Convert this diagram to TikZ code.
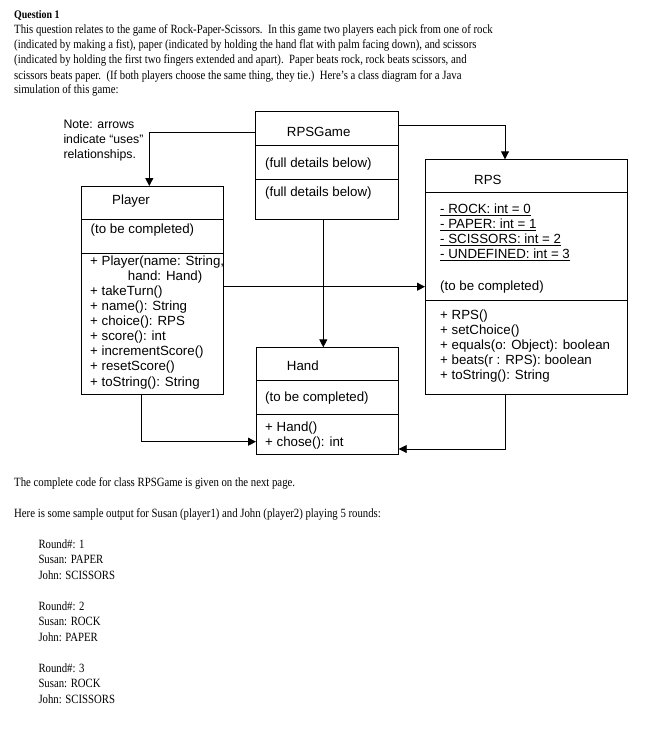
\documentclass[tikz,border=0pt]{standalone}
\usepackage{fontspec}
\usepackage{graphicx}
\usetikzlibrary{arrows.meta}
\newfontfamily\tnr{Liberation Serif}
\newfontfamily\ari{Liberation Sans}
\newcommand{\bodyfont}{\tnr\fontsize{12.6}{15}\selectfont}
\newcommand{\bt}[1]{\scalebox{0.854}[1]{#1}}
\begin{document}
\begin{tikzpicture}[x=1pt,y=-1pt,
  box/.style={draw, line width=0.9pt, anchor=north west, inner sep=0pt, outer sep=0pt},
  sep/.style={line width=0.9pt},
  dt/.style={anchor=base west, inner sep=0pt, font=\ari\fontsize{13.3}{15}\selectfont},
  notet/.style={anchor=base west, inner sep=0pt, font=\ari\fontsize{12.3}{15}\selectfont},
  bodyt/.style={anchor=base west, inner sep=0pt, font=\bodyfont},
  uses/.style={line width=0.9pt, -{Triangle[length=8pt,width=8pt]}}]
\fill[white] (0,0) rectangle (652,736);
\useasboundingbox (0,0) rectangle (652,736);

% body text top
\node[bodyt] (q1) at (14,18.3) {\bt{\fontsize{11.6}{15}\selectfont\bfseries Question 1}};
\node[bodyt] (l1) at (14,33.3) {\bt{This question relates to the game of Rock-Paper-Scissors.\ \ In this game two players each pick from one of rock}};
\node[bodyt] (l2) at (14,48.6) {\bt{(indicated by making a fist), paper (indicated by holding the hand flat with palm facing down), and scissors}};
\node[bodyt] (l3) at (14,63.9) {\bt{(indicated by holding the first two fingers extended and apart).\ \ Paper beats rock, rock beats scissors, and}};
\node[bodyt] (l4) at (14,79) {\bt{scissors beats paper.\ \ (If both players choose the same thing, they tie.)\ \ Here’s a class diagram for a Java}};
\node[bodyt] (l5) at (14,93.6) {\bt{simulation of this game:}};

% boxes
\node[box, minimum width=142.6pt, minimum height=107.6pt] (game) at (255.7,111.7) {};
\node[box, minimum width=141.6pt, minimum height=208pt] (player) at (81.7,186) {};
\node[box, minimum width=202.3pt, minimum height=234.7pt] (rps) at (425,159.3) {};
\node[box, minimum width=142.7pt, minimum height=107pt] (hand) at (256,347.3) {};

\draw[sep] (game.west |- 0,145.3) -- (game.east |- 0,145.3);
\draw[sep] (game.west |- 0,179.3) -- (game.east |- 0,179.3);
\draw[sep] (player.west |- 0,219.3) -- (player.east |- 0,219.3);
\draw[sep] (player.west |- 0,253.3) -- (player.east |- 0,253.3);
\draw[sep] (rps.west |- 0,192.3) -- (rps.east |- 0,192.3);
\draw[sep] (rps.west |- 0,300) -- (rps.east |- 0,300);
\draw[sep] (hand.west |- 0,380.7) -- (hand.east |- 0,380.7);
\draw[sep] (hand.west |- 0,414.3) -- (hand.east |- 0,414.3);

% note
\node[notet] (n1) at (63.3,128.5) {Note: arrows};
\node[notet] (n2) at (63.3,143.5) {indicate “uses”};
\node[notet] (n3) at (63.3,158.7) {relationships.};

% RPSGame
\node[dt] (gt) at (286.7,136) {RPSGame};
\node[dt] (g1) at (265,167.3) {(full details below)};
\node[dt] (g2) at (265,196) {(full details below)};

% Player
\node[dt] (pt) at (112,204.3) {Player};
\node[dt] (pa) at (90.5,233.3) {(to be completed)};
\node[dt] (pm1) at (90,265) {+ Player(name: String,};
\node[dt] (pm1b) at (127.7,280.1) {hand: Hand)};
\node[dt] (pm2) at (90,295.2) {+ takeTurn()};
\node[dt] (pm3) at (90,310.4) {+ name(): String};
\node[dt] (pm4) at (90,325.5) {+ choice(): RPS};
\node[dt] (pm5) at (90,340.6) {+ score(): int};
\node[dt] (pm6) at (90,355.8) {+ incrementScore()};
\node[dt] (pm7) at (90,370.9) {+ resetScore()};
\node[dt] (pm8) at (90,386) {+ toString(): String};

% RPS
\node[dt] (rt) at (474,184) {RPS};
\node[dt] (ra1) at (440,213.3) {\underline{- ROCK: int = 0}};
\node[dt] (ra2) at (440,228.4) {\underline{- PAPER: int = 1}};
\node[dt] (ra3) at (440,243.5) {\underline{- SCISSORS: int = 2}};
\node[dt] (ra4) at (440,258.6) {\underline{- UNDEFINED: int = 3}};
\node[dt] (ra5) at (440,290) {(to be completed)};
\node[dt] (rm1) at (440,319.3) {+ RPS()};
\node[dt] (rm2) at (440,334.4) {+ setChoice()};
\node[dt] (rm3) at (440,349.5) {+ equals(o: Object): boolean};
\node[dt] (rm4) at (440,364.6) {+ beats(r : RPS): boolean};
\node[dt] (rm5) at (440,379.7) {+ toString(): String};

% Hand
\node[dt] (ht) at (286.7,370.7) {Hand};
\node[dt] (ha) at (265,401.7) {(to be completed)};
\node[dt] (hm1) at (265,431.7) {+ Hand()};
\node[dt] (hm2) at (265,446.7) {+ chose(): int};

% connectors
\draw[uses] (game.west |- 0,132.3) -| (149.3,0 |- player.north);
\draw[uses] (game.east |- 0,125) -| (505,0 |- rps.north);
\draw[uses] (323.3,0 |- game.south) -- (323.3,0 |- hand.north);
\draw[uses] (player.east |- 0,286.7) -- (rps.west |- 0,286.7);
\draw[uses] (141.7,0 |- player.south) |- (hand.west |- 0,441.7);
\draw[uses] (505,0 |- rps.south) |- (hand.east |- 0,449);

% body text bottom
\node[bodyt] (b1) at (14,486.7) {\bt{The complete code for class RPSGame is given on the next page.}};
\node[bodyt] (b2) at (14,517.3) {\bt{Here is some sample output for Susan (player1) and John (player2) playing 5 rounds:}};
\node[bodyt] (r1a) at (38.3,548.3) {\bt{Round\#: 1}};
\node[bodyt] (r1b) at (38.3,563.3) {\bt{Susan: PAPER}};
\node[bodyt] (r1c) at (38.3,579.3) {\bt{John: SCISSORS}};
\node[bodyt] (r2a) at (38.3,610.7) {\bt{Round\#: 2}};
\node[bodyt] (r2b) at (38.3,625.7) {\bt{Susan: ROCK}};
\node[bodyt] (r2c) at (38.3,641.7) {\bt{John: PAPER}};
\node[bodyt] (r3a) at (38.3,672.3) {\bt{Round\#: 3}};
\node[bodyt] (r3b) at (38.3,687.7) {\bt{Susan: ROCK}};
\node[bodyt] (r3c) at (38.3,703.3) {\bt{John: SCISSORS}};
\end{tikzpicture}
\end{document}
